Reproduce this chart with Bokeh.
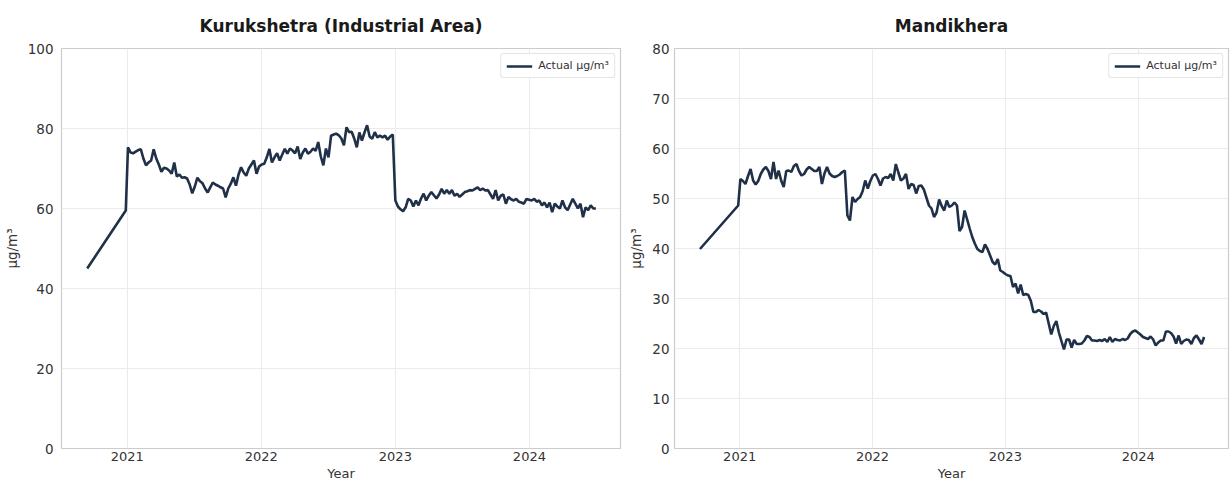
import pandas as pd
from bokeh.plotting import figure
from bokeh.layouts import row
from bokeh.models import FixedTicker, DatetimeTickFormatter, Range1d, Legend, LegendItem
from bokeh.embed import file_html
from bokeh.resources import INLINE

# ---------------- data ----------------
station_names = ["Kurukshetra (Industrial Area)", "Mandikhera"]
series_label = "Actual μg/m³"
year_ticks = [2021, 2022, 2023, 2024]

# two early readings before the weekly record begins
early_dates = ["2020-09-14", "2020-12-28"]
kurukshetra_early = [45.0, 59.5]
mandikhera_early = [39.9, 48.6]

weekly_start = "2021-01-03"

kurukshetra_weekly = [
    75.3, 74.0, 73.8, 74.2, 74.6, 74.8, 72.5, 70.8, 71.5, 72.0, 74.8, 72.5, 71.0,
    69.2, 70.2, 70.0, 69.5, 68.7, 71.5, 68.0, 68.5, 67.7, 67.8, 67.5, 66.0, 63.8,
    65.5, 67.7, 66.8, 66.3, 65.0, 64.0, 65.3, 66.5, 66.0, 65.7, 65.3, 65.0, 62.8,
    65.0, 66.2, 67.8, 65.7, 68.5, 70.3, 69.0, 68.2, 70.0, 71.0, 72.0, 68.7, 70.5,
    71.0, 71.2, 72.8, 74.9, 71.5, 72.8, 73.8, 72.0, 73.5, 74.9, 73.7, 75.0, 74.5,
    73.8, 75.5, 72.4, 74.0, 75.0, 73.7, 74.2, 75.0, 74.4, 76.6, 73.0, 70.8, 75.0,
    72.8, 78.2, 78.5, 78.7, 78.3, 77.5, 75.8, 80.3, 79.1, 79.2, 77.5, 75.3, 79.0,
    77.0, 79.0, 80.8, 78.0, 77.4, 79.1, 77.8, 78.2, 77.8, 78.2, 77.2, 78.0, 78.5,
    62.0, 60.5, 59.8, 59.3, 60.3, 62.4, 62.0, 60.5, 62.0, 60.8, 62.5, 63.7, 62.0,
    63.2, 64.1, 63.3, 62.5, 63.5, 64.9, 63.7, 64.6, 63.7, 64.6, 63.2, 63.7, 62.9,
    63.5, 64.1, 64.3, 64.6, 64.5, 64.9, 65.3, 64.6, 65.0, 64.5, 64.6, 63.5, 62.4,
    64.6, 62.0, 63.2, 63.5, 61.2, 62.9, 62.3, 62.0, 62.4, 61.7, 61.5, 61.2, 62.4,
    62.2, 62.0, 62.4, 61.7, 62.0, 60.8, 61.5, 60.3, 61.5, 59.1, 61.2, 60.5, 60.0,
    62.0, 60.3, 59.6, 61.0, 62.4, 61.2, 60.0, 61.2, 57.8, 60.3, 59.6, 60.8, 60.0,
    60.0,
]

mandikhera_weekly = [
    53.9, 53.5, 52.9, 54.5, 55.9, 53.6, 52.8, 53.5, 54.9, 55.8, 56.3, 55.5, 53.9,
    57.3, 53.9, 55.6, 53.6, 52.3, 55.5, 55.6, 55.3, 56.5, 56.9, 55.5, 54.6, 54.9,
    55.8, 56.3, 55.9, 55.5, 55.5, 56.3, 52.9, 55.0, 56.3, 55.0, 54.5, 54.3, 54.5,
    54.8, 55.3, 55.6, 46.6, 45.6, 50.3, 49.3, 49.9, 50.3, 51.5, 53.6, 52.0, 53.5,
    54.6, 54.9, 53.9, 52.6, 54.0, 54.3, 54.1, 54.9, 53.6, 56.9, 55.2, 53.6, 54.0,
    54.9, 51.9, 52.9, 52.7, 51.0, 52.5, 52.6, 51.8, 50.2, 48.6, 48.0, 46.3, 47.2,
    49.8, 48.5, 47.6, 49.6, 48.3, 48.6, 49.2, 48.6, 43.5, 44.3, 47.6, 45.8, 44.0,
    42.3, 41.0, 39.9, 39.5, 39.3, 40.8, 39.9, 38.6, 37.3, 36.8, 37.9, 35.6, 35.3,
    34.9, 34.6, 34.5, 32.3, 33.0, 31.0, 32.8, 30.7, 30.9, 30.7, 29.5, 27.3, 27.3,
    27.7, 27.4, 26.9, 27.2, 25.0, 22.8, 24.5, 25.5, 23.2, 21.5, 19.8, 21.8, 21.8,
    20.2, 21.7, 20.9, 20.9, 21.0, 21.6, 22.5, 22.3, 21.6, 21.6, 21.5, 21.7, 21.5,
    21.9, 21.3, 22.3, 21.3, 21.9, 21.7, 21.6, 21.9, 21.7, 22.0, 22.9, 23.4, 23.6,
    23.2, 22.8, 22.3, 22.1, 21.9, 22.4, 21.8, 20.6, 21.2, 21.6, 21.6, 23.4, 23.4,
    23.1, 22.4, 21.0, 22.6, 20.9, 21.5, 21.8, 21.7, 20.9, 22.1, 22.6, 21.8, 20.9,
    22.3,
]

y_maxes = [100, 80]
y_tick_steps = [20, 10]

# ---------------- build ----------------
LINE_COLOR = "#1f3048"
TEXT_COLOR = "#333333"
FONT = "DejaVu Sans"

x_start = pd.Timestamp("2020-07-06")
x_end = pd.Timestamp("2024-09-05")


def make_panel(title, early_vals, weekly_vals, ymax, ystep, width, border_left, border_right,
               ylab_standoff):
    weekly_dates = pd.date_range(weekly_start, periods=len(weekly_vals), freq="7D")
    dates = list(pd.to_datetime(early_dates)) + list(weekly_dates)
    vals = list(early_vals) + list(weekly_vals)

    p = figure(width=width, height=484, x_axis_type="datetime",
               output_backend="svg", toolbar_location=None,
               x_range=Range1d(x_start, x_end), y_range=Range1d(0, ymax),
               min_border_left=border_left, min_border_right=border_right,
               min_border_top=48, min_border_bottom=36)
    p.title.text = title
    p.title.align = "center"
    p.title.text_font = FONT
    p.title.text_font_size = "17px"
    p.title.text_font_style = "bold"
    p.title.text_color = "#1a1a1a"
    p.title.standoff = 26

    r = p.line(dates, vals, line_color=LINE_COLOR, line_width=2.6)

    p.xaxis.ticker = FixedTicker(ticks=[pd.Timestamp(f"{y}-01-01").timestamp() * 1000 for y in year_ticks])
    p.xaxis.formatter = DatetimeTickFormatter(years="%Y", months="%Y", days="%Y", hours="%Y",
                                              minutes="%Y", seconds="%Y", milliseconds="%Y",
                                              microseconds="%Y", minsec="%Y", hourmin="%Y")
    p.yaxis.ticker = FixedTicker(ticks=list(range(0, ymax + 1, ystep)))

    p.xaxis.axis_label = "Year"
    p.yaxis.axis_label = "μg/m³"
    for ax in (p.xaxis[0], p.yaxis[0]):
        ax.axis_line_color = None
        ax.major_tick_line_color = None
        ax.minor_tick_line_color = None
        ax.major_tick_out = 0
        ax.major_tick_in = 0
        ax.minor_tick_out = 0
        ax.minor_tick_in = 0
        ax.major_label_text_font = FONT
        ax.major_label_text_color = TEXT_COLOR
        ax.axis_label_text_font = FONT
        ax.axis_label_text_font_style = "normal"
        ax.axis_label_text_color = TEXT_COLOR
    p.yaxis.major_label_text_font_size = "13.5px"
    p.yaxis.axis_label_text_font_size = "13.5px"
    p.xaxis.major_label_text_font_size = "13px"
    p.xaxis.axis_label_text_font_size = "13px"
    p.xaxis.major_label_standoff = 3
    p.xaxis.axis_label_standoff = 2
    p.yaxis.major_label_standoff = ylab_standoff
    p.yaxis.axis_label_standoff = 5

    p.xgrid.grid_line_color = "#ebebeb"
    p.ygrid.grid_line_color = "#ebebeb"
    p.outline_line_color = "#cccccc"
    p.outline_line_width = 1.2
    p.background_fill_color = "white"
    p.border_fill_color = "white"

    legend = Legend(items=[LegendItem(label=series_label, renderers=[r])],
                    location="top_right")
    legend.label_text_font = FONT
    legend.label_text_font_size = "11px"
    legend.label_text_color = TEXT_COLOR
    legend.glyph_width = 26
    legend.glyph_height = 12
    legend.label_height = 12
    legend.padding = 5
    legend.margin = 5
    legend.spacing = 0
    legend.label_standoff = 6
    legend.border_line_color = "#cccccc"
    legend.border_line_width = 1
    legend.border_radius = 3
    legend.background_fill_alpha = 0.9
    p.add_layout(legend)
    return p


p1 = make_panel(station_names[0], kurukshetra_early, kurukshetra_weekly,
                y_maxes[0], y_tick_steps[0], 625, 60, 5, 8)
p2 = make_panel(station_names[1], mandikhera_early, mandikhera_weekly,
                y_maxes[1], y_tick_steps[1], 606, 48, 3, 5)

layout = row(p1, p2, spacing=0)
open("out.html", "w").write(file_html(layout, INLINE))
